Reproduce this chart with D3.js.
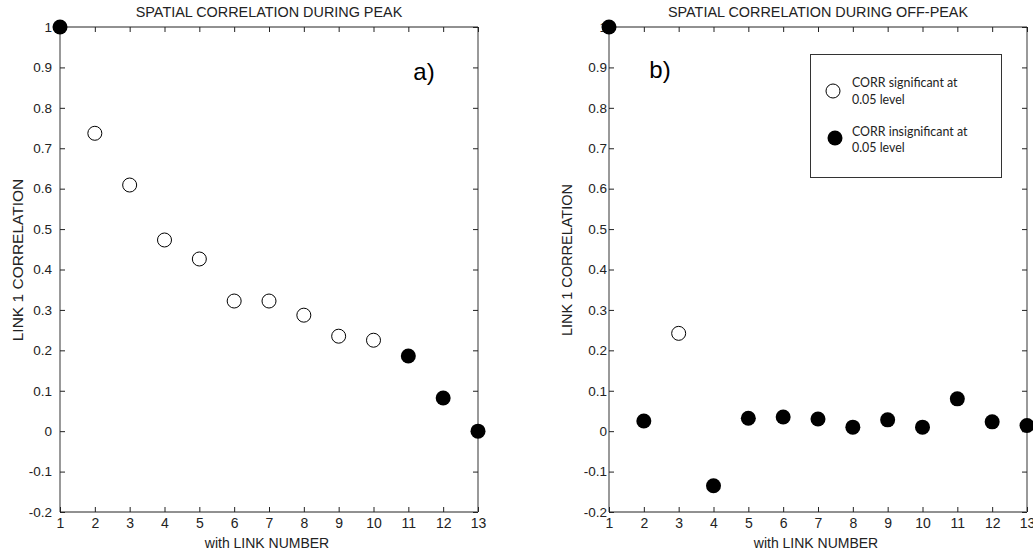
<!DOCTYPE html>
<html><head><meta charset="utf-8">
<script src="https://cdn.jsdelivr.net/npm/d3@7"></script>
<style>html,body{margin:0;padding:0;background:#fff;}svg{display:block;}</style>
</head><body><svg id="c" width="1033" height="552"></svg>
<script>
const linkNumbers = [1,2,3,4,5,6,7,8,9,10,11,12,13];
const peakCorr = [1, 0.737, 0.609, 0.473, 0.426, 0.322, 0.322, 0.287, 0.235, 0.225, 0.186, 0.082, 0.0];
const peakSignificant = [false, true, true, true, true, true, true, true, true, true, false, false, false];
const offPeakCorr = [1, 0.025, 0.242, -0.135, 0.032, 0.035, 0.030, 0.010, 0.028, 0.010, 0.080, 0.023, 0.014];
const offPeakSignificant = [false, false, true, false, false, false, false, false, false, false, false, false, false];
const yTicks = [-0.2,-0.1,0,0.1,0.2,0.3,0.4,0.5,0.6,0.7,0.8,0.9,1];
const yTickLabels = ["-0.2","-0.1","0","0.1","0.2","0.3","0.4","0.5","0.6","0.7","0.8","0.9","1"];
const titles = ["SPATIAL CORRELATION DURING PEAK","SPATIAL CORRELATION DURING OFF-PEAK"];
const panelTags = ["a)","b)"];
const legendLabels = [["CORR significant at","0.05 level"],["CORR insignificant at","0.05 level"]];

const svg = d3.select("#c");
const panels = [
  {x0:60, x1:478, vals:peakCorr, sig:peakSignificant, ylabFont:15.5, ylabX:23, tickGap:8, tag:[424,80]},
  {x0:609, x1:1027, vals:offPeakCorr, sig:offPeakSignificant, ylabFont:14.5, ylabX:572, tickGap:2, tag:[660,78]}
];
const yTop = 27, yBot = 512;
const y = d3.scaleLinear().domain([-0.2,1]).range([yBot,yTop]);
const FONT = "Liberation Sans, Arial, sans-serif";

panels.forEach((p,i)=>{
  const x = d3.scaleLinear().domain([1,13]).range([p.x0,p.x1]);
  const g = svg.append("g");
  // frame
  g.append("line").attr("x1",p.x0).attr("x2",p.x1).attr("y1",yTop).attr("y2",yTop).attr("stroke","#222").attr("stroke-width",1);
  g.append("line").attr("x1",p.x0).attr("x2",p.x1).attr("y1",yBot).attr("y2",yBot).attr("stroke","#222").attr("stroke-width",1);
  g.append("line").attr("x1",p.x0).attr("x2",p.x0).attr("y1",yTop).attr("y2",yBot).attr("stroke","#777").attr("stroke-width",1.5);
  g.append("line").attr("x1",p.x1).attr("x2",p.x1).attr("y1",yTop).attr("y2",yBot).attr("stroke","#777").attr("stroke-width",1.5);
  // bottom axis
  const xb = d3.axisBottom(x).tickValues(linkNumbers).tickSize(-5).tickPadding(6).tickFormat(d3.format("d"));
  const gx = g.append("g").attr("transform",`translate(0,${yBot})`).call(xb);
  gx.select(".domain").remove();
  gx.selectAll("line").attr("stroke","#222");
  gx.selectAll("text").attr("font-family",FONT).attr("font-size",14).attr("fill","#222");
  const xt = d3.axisTop(x).tickValues(linkNumbers).tickSize(-5).tickFormat("");
  const gxt = g.append("g").attr("transform",`translate(0,${yTop})`).call(xt);
  gxt.select(".domain").remove(); gxt.selectAll("line").attr("stroke","#222");
  // left axis
  const yl = d3.axisLeft(y).tickValues(yTicks).tickSize(-5).tickPadding(p.tickGap).tickFormat((d,k)=>yTickLabels[k]);
  const gy = g.append("g").attr("transform",`translate(${p.x0},0)`).call(yl);
  gy.select(".domain").remove(); gy.selectAll("line").attr("stroke","#222");
  gy.selectAll("text").attr("font-family",FONT).attr("font-size",13.5).attr("fill","#222");
  const yr = d3.axisRight(y).tickValues(yTicks).tickSize(-5).tickFormat("");
  const gyr = g.append("g").attr("transform",`translate(${p.x1},0)`).call(yr);
  gyr.select(".domain").remove(); gyr.selectAll("line").attr("stroke","#222");
  // titles
  const cx = (p.x0+p.x1)/2;
  g.append("text").attr("x",cx).attr("y",17).attr("text-anchor","middle")
    .attr("font-family",FONT).attr("font-size",14.4).attr("fill","#222").text(titles[i]);
  g.append("text").attr("x",cx - 2).attr("y",548).attr("text-anchor","middle")
    .attr("font-family",FONT).attr("font-size",14).attr("fill","#222").text("with LINK NUMBER");
  g.append("text").attr("transform",`translate(${p.ylabX},${260}) rotate(-90)`).attr("text-anchor","middle")
    .attr("font-family",FONT).attr("font-size",p.ylabFont).attr("fill","#222").text("LINK 1 CORRELATION");
  g.append("text").attr("x",p.tag[0]).attr("y",p.tag[1]).attr("text-anchor","middle")
    .attr("font-family",FONT).attr("font-size",24).attr("fill","#000").text(panelTags[i]);
  // points
  g.selectAll("circle.pt").data(linkNumbers).enter().append("circle")
    .attr("cx",d=>x(d)).attr("cy",(d,k)=>y(p.vals[k]))
    .attr("r",(d,k)=>p.sig[k]?7:7.5)
    .attr("fill",(d,k)=>p.sig[k]?"#fff":"#000")
    .attr("stroke","#000").attr("stroke-width",(d,k)=>p.sig[k]?1:0);
});

// legend
const lg = svg.append("g");
lg.append("rect").attr("x",810.5).attr("y",54.5).attr("width",191).attr("height",123).attr("fill","#fff").attr("stroke","#333").attr("stroke-width",1);
lg.append("circle").attr("cx",833).attr("cy",91).attr("r",7).attr("fill","#fff").attr("stroke","#000").attr("stroke-width",1);
lg.append("circle").attr("cx",835).attr("cy",138).attr("r",7.5).attr("fill","#000");
const legendBaselines = [[87,104],[136,152]];
legendLabels.forEach((lines,k)=>{
  lines.forEach((t,j)=>{
    lg.append("text").attr("x",852).attr("y",legendBaselines[k][j])
      .attr("font-family","Lato, Open Sans, sans-serif").attr("font-size",12.4).attr("fill","#222").text(t);
  });
});
</script></body></html>
